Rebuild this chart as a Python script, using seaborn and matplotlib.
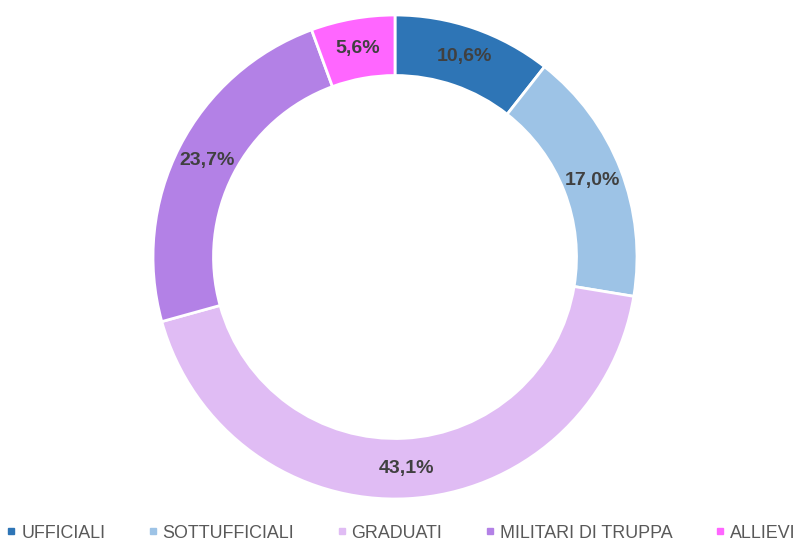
"""
Donut chart: personnel breakdown by category.
"""

import matplotlib
matplotlib.use("Agg")
import matplotlib.pyplot as plt
from matplotlib.lines import Line2D
import seaborn as sns

# Data
categories = ["UFFICIALI", "SOTTUFFICIALI", "GRADUATI", "MILITARI DI TRUPPA", "ALLIEVI"]
shares = [10.6, 17.0, 43.1, 23.7, 5.6]
colors = ["#2E75B6", "#9DC3E6", "#E0BCF4", "#B381E6", "#FF66FF"]

sns.set_theme(style="white")
plt.rcParams["font.family"] = ["Liberation Sans", "DejaVu Sans"]

fig = plt.figure(figsize=(7.95, 5.42), dpi=100)
ax = fig.add_axes([153 / 795, 43 / 542, 484 / 795, 484 / 542])

palette = sns.color_palette(colors)

wedges, texts, autotexts = ax.pie(
    shares,
    colors=palette,
    startangle=90,
    counterclock=False,
    radius=1.0,
    autopct=lambda p: f"{p:.1f}%".replace(".", ","),
    pctdistance=0.875,
    wedgeprops=dict(width=0.25, edgecolor="white", linewidth=2),
    textprops=dict(color="#404040", fontsize=14, fontweight="bold"),
)
ax.set_xlim(-1, 1)
ax.set_ylim(-1, 1)
ax.set_aspect("equal")
ax.axis("off")

# Legend with small square markers
handles = [
    Line2D([0], [0], marker="s", linestyle="", markersize=5,
           markerfacecolor=c, markeredgecolor=c)
    for c in colors
]
leg = fig.legend(
    handles, categories,
    loc="center", bbox_to_anchor=(401 / 795, 1 - 533 / 542),
    ncol=5, frameon=False, fontsize=12.9,
    handlelength=0.5, handletextpad=0.3, columnspacing=2.4,
    borderaxespad=0, borderpad=0,
)
for t in leg.get_texts():
    t.set_color("#595959")

fig.savefig("out.png", dpi=100)
plt.close(fig)
